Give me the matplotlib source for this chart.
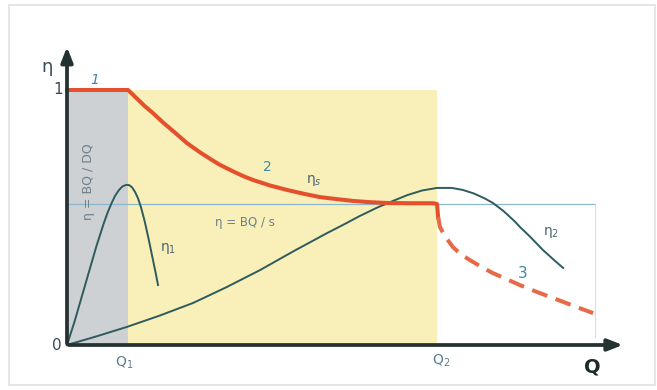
import numpy as np
import matplotlib
matplotlib.use("Agg")
import matplotlib.pyplot as plt
from matplotlib.patches import Rectangle

# flow Q scaled so that Q2 = 1, efficiency eta scaled so that max = 1
Q1 = 0.165
Q2 = 1.0
ETA_LIMIT = 0.553

# eta_1 curve (small pump)
eta1_q = [0, 0.01, 0.02, 0.03, 0.04, 0.05, 0.06, 0.07, 0.08, 0.09, 0.10, 0.11, 0.12, 0.13,
          0.14, 0.15, 0.16, 0.168, 0.176, 0.184, 0.192, 0.20, 0.21, 0.22, 0.23, 0.24, 0.246]
eta1_v = [0, 0.045, 0.09, 0.14, 0.19, 0.24, 0.29, 0.34, 0.39, 0.435, 0.48, 0.52, 0.555, 0.585,
          0.607, 0.622, 0.628, 0.627, 0.618, 0.60, 0.575, 0.54, 0.485, 0.42, 0.35, 0.28, 0.235]

# eta_2 curve (large pump)
eta2_q = [0, 0.08, 0.162, 0.25, 0.341, 0.43, 0.522, 0.61, 0.703, 0.75, 0.79, 0.84, 0.881, 0.92,
          0.96, 1.0, 1.04, 1.07, 1.10, 1.13, 1.151, 1.18, 1.21, 1.224, 1.25, 1.286, 1.315, 1.341]
eta2_v = [0, 0.034, 0.071, 0.115, 0.165, 0.226, 0.294, 0.366, 0.439, 0.474, 0.505, 0.540, 0.565,
          0.588, 0.606, 0.616, 0.616, 0.608, 0.594, 0.574, 0.557, 0.525, 0.485, 0.463, 0.427,
          0.373, 0.335, 0.302]

# combined curve 1 + 2 (solid)
red_q = [0, 0.165, 0.19, 0.21, 0.232, 0.26, 0.29, 0.324, 0.36, 0.39, 0.414, 0.45, 0.48, 0.503,
         0.55, 0.595, 0.64, 0.684, 0.73, 0.773, 0.82, 0.865, 0.93, 0.989, 1.0, 1.003]
red_v = [1.0, 1.0, 0.965, 0.937, 0.910, 0.872, 0.835, 0.792, 0.755, 0.727, 0.706, 0.68, 0.66,
         0.647, 0.625, 0.608, 0.593, 0.580, 0.572, 0.565, 0.56, 0.557, 0.556, 0.556, 0.553, 0.502]

# curve 3 (dashed)
dash_q = [1.003, 1.008, 1.02, 1.043, 1.065, 1.089, 1.12, 1.151, 1.19, 1.224, 1.27, 1.314, 1.37, 1.422]
dash_v = [0.502, 0.463, 0.43, 0.384, 0.355, 0.333, 0.306, 0.282, 0.257, 0.235, 0.208, 0.184,
          0.153, 0.125]

RED = "#e4502c"
TEAL = "#2d5b5e"
LBLUE = "#8db7cf"
LABEL = "#5e7f8e"
NUM = "#3f88a8"

fig = plt.figure(figsize=(6.57, 3.90), dpi=100)
ax = fig.add_axes([0, 0, 1, 1])
ax.set_xlim(-67 / 370, 590 / 370)
ax.set_ylim(-45 / 255, 345 / 255)
ax.axis("off")

# faint frame of the picture
fig.patches.append(Rectangle((9 / 657, 5 / 390), 646 / 657, 380 / 390, transform=fig.transFigure,
                             fill=False, edgecolor="#dfe3e6", lw=1.2))

ax.add_patch(Rectangle((0, 0), Q1, 1, facecolor="#cdd1d4", edgecolor="none", zorder=1))
ax.add_patch(Rectangle((Q1, 0), Q2 - Q1, 1, facecolor="#f8efb9", edgecolor="none", zorder=1))

# thin limit lines
ax.plot([0, 1.427], [ETA_LIMIT, ETA_LIMIT], color=LBLUE, lw=0.9, zorder=2)
ax.plot([1.427, 1.427], [ETA_LIMIT, 0.03], color="#cfe0ea", lw=0.8, zorder=2)

ax.plot(eta1_q, eta1_v, color=TEAL, lw=1.4, zorder=3, solid_joinstyle="round")
ax.plot(eta2_q, eta2_v, color=TEAL, lw=1.4, zorder=3, solid_joinstyle="round")
ax.plot(red_q, red_v, color=RED, lw=2.9, zorder=4, solid_joinstyle="round")
ax.plot(dash_q, dash_v, color="#e66a48", lw=2.9, zorder=4, dashes=(4, 2.2))

# axes with arrows
ax.annotate("", xy=(1.51, 0), xytext=(-0.003, 0),
            arrowprops=dict(arrowstyle="-|>,head_length=0.9,head_width=0.35", color="#243232", lw=2.7),
            zorder=5)
ax.annotate("", xy=(0, 1.18), xytext=(0, -0.005),
            arrowprops=dict(arrowstyle="-|>,head_length=0.9,head_width=0.35", color="#243232", lw=2.7),
            zorder=5)

ax.text(-0.054, 1.09, "η", fontsize=13, color="#3a4a55", ha="center", va="center")
ax.text(-0.025, 1.0, "1", fontsize=11, color="#3a4a55", ha="center", va="center")
ax.text(-0.027, 0.0, "0", fontsize=11, color="#3a4a55", ha="center", va="center")
ax.text(0.075, 1.04, "1", fontsize=10, color=NUM, style="italic", ha="center", va="center")
ax.text(Q1 - 0.01, -0.068, "Q$_1$", fontsize=10, color=LABEL, ha="center", va="center")
ax.text(Q2 + 0.01, -0.062, "Q$_2$", fontsize=10, color=LABEL, ha="center", va="center")
ax.text(1.42, -0.088, "Q", fontsize=14, fontweight="bold", color="#1e2a2a", ha="center", va="center")

ax.text(0.057, 0.64, "η = BQ / DQ", fontsize=9, color="#6d7f8a", rotation=90,
        ha="center", va="center", zorder=3)
ax.text(0.481, 0.48, "η = BQ / s", fontsize=8.5, color="#6d7f8a", ha="center", va="center")
ax.text(0.541, 0.70, "2", fontsize=10, color=NUM, ha="center", va="center")
ax.text(0.667, 0.647, "η$_s$", fontsize=10, color="#4e6670", ha="center", va="center")
ax.text(0.272, 0.38, "η$_1$", fontsize=10, color="#4e6670", ha="center", va="center")
ax.text(1.307, 0.44, "η$_2$", fontsize=10, color="#4e6670", ha="center", va="center")
ax.text(1.232, 0.282, "3", fontsize=11, color=NUM, ha="center", va="center")

fig.savefig("out.png", dpi=100)
